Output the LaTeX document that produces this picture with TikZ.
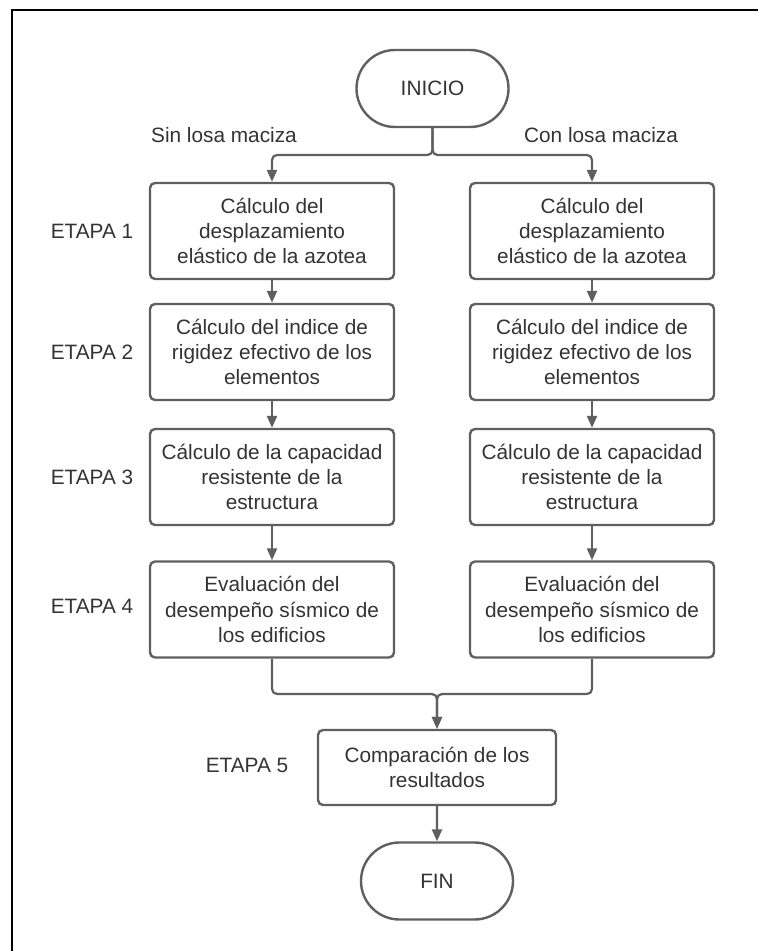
\documentclass[tikz,border=0pt]{standalone}
\usepackage{fontspec}
\setmainfont{Liberation Sans}
\usetikzlibrary{arrows.meta,shapes.misc}
\definecolor{linegray}{HTML}{5F5F5F}
\definecolor{textgray}{HTML}{333333}
\tikzset{proc/.style={draw=linegray,line width=1.2pt,rounded corners=2.5pt,align=center,
    minimum width=122pt,minimum height=48pt,inner sep=0pt,
    text=textgray,font=\fontsize{10.4}{12.7}\selectfont},
  term/.style={draw=linegray,line width=1.2pt,rounded rectangle,minimum width=76pt,
    minimum height=38.5pt,inner sep=0pt,text=textgray,font=\fontsize{10.4}{12.7}\selectfont},
  lbl/.style={text=textgray,inner sep=0pt,font=\fontsize{10.4}{12.7}\selectfont},
  arr/.style={draw=linegray,line width=1.1pt,rounded corners=2.5pt,
    -{Triangle[length=6pt,width=5pt]}}}

\begin{document}
\begin{tikzpicture}[x=0.5pt,y=-0.5pt]
\useasboundingbox (0,0) rectangle (758,951);
\draw[line width=1pt] (12,951) -- (12,10) -- (758,10);

\node[term] (ini) at (432.5,88.5) {INICIO};
\node[lbl] (sinlbl) at (224,135) {Sin losa maciza};
\node[lbl] (conlbl) at (601,135) {Con losa maciza};
\coordinate (split) at (432.5,155);

\node[proc] (sin1) at (272,231) {Cálculo del\\desplazamiento\\elástico de la azotea};
\node[proc] (con1) at (592,231) {Cálculo del\\desplazamiento\\elástico de la azotea};
\node[proc] (sin2) at (272,352) {Cálculo del indice de\\rigidez efectivo de los\\elementos};
\node[proc] (con2) at (592,352) {Cálculo del indice de\\rigidez efectivo de los\\elementos};
\node[proc] (sin3) at (272,477) {Cálculo de la capacidad\\resistente de la\\estructura};
\node[proc] (con3) at (592,477) {Cálculo de la capacidad\\resistente de la\\estructura};
\node[proc] (sin4) at (272,609.5) {Evaluación del\\desempeño sísmico de\\los edificios};
\node[proc] (con4) at (592,609.5) {Evaluación del\\desempeño sísmico de\\los edificios};

\node[lbl] (et1) at (92,231) {ETAPA 1};
\node[lbl] (et2) at (92,352) {ETAPA 2};
\node[lbl] (et3) at (92,477) {ETAPA 3};
\node[lbl] (et4) at (92,606) {ETAPA 4};

\coordinate (merge) at (437,694);
\node[proc,minimum width=119pt,minimum height=37.5pt] (comp) at (437,767.5) {Comparación de los\\resultados};
\node[lbl] (et5) at (247,765) {ETAPA 5};
\node[term] (fin) at (437,881) {FIN};

\draw[arr] (ini.south) -- (split) -| (sin1.north);
\draw[arr] (ini.south) -- (split) -| (con1.north);
\foreach \a/\b in {sin1/sin2,sin2/sin3,sin3/sin4,con1/con2,con2/con3,con3/con4}
  \draw[arr] (\a) -- (\b);
\draw[arr] (sin4.south) |- (merge) -- (comp.north);
\draw[arr] (con4.south) |- (merge) -- (comp.north);
\draw[arr] (comp) -- (fin);
\end{tikzpicture}
\end{document}
